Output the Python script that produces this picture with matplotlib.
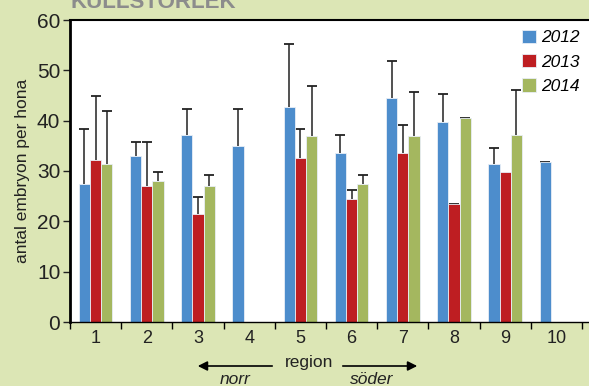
import numpy as np
import matplotlib.pyplot as plt

# regions and yearly means (antal embryon per hona) with upper error
regions = ['1', '2', '3', '4', '5', '6', '7', '8', '9', '10']
years = ['2012', '2013', '2014']

mean_2012 = [27.4, 32.9, 37.2, 35.0, 42.7, 33.5, 44.5, 39.7, 31.3, 31.7]
mean_2013 = [32.2, 27.0, 21.5, np.nan, 32.5, 24.4, 33.5, 23.4, 29.9, np.nan]
mean_2014 = [31.4, 28.1, 27.0, np.nan, 36.9, 27.4, 36.9, 40.5, 37.2, np.nan]

err_2012 = [10.9, 2.9, 5.2, 7.4, 12.6, 3.7, 7.4, 5.6, 3.3, 0.1]
err_2013 = [12.8, 8.8, 3.4, np.nan, 5.8, 1.9, 5.6, 0.1, np.nan, np.nan]
err_2014 = [10.6, 1.8, 2.2, np.nan, 9.9, 1.8, 8.8, 0.1, 8.8, np.nan]

colors = ['#4d8dcc', '#be1e22', '#a4b75f']
bg = '#dce6b5'

plt.rcParams['font.family'] = ['Liberation Sans', 'DejaVu Sans']

fig = plt.figure(figsize=(5.89, 3.86), dpi=100, facecolor=bg)
W, H = 589, 386
ax = fig.add_axes([70 / W, (H - 322) / H, (W - 70) / W, (322 - 20) / H])
ax.set_facecolor('white')

x = np.arange(1, len(regions) + 1)
bw = 0.22
means = [mean_2012, mean_2013, mean_2014]
errs = [err_2012, err_2013, err_2014]
for i, (m, e) in enumerate(zip(means, errs)):
    m = np.array(m, dtype=float)
    e = np.array(e, dtype=float)
    pos = x + (i - 1) * bw
    ok = ~np.isnan(m)
    ax.bar(pos[ok], m[ok], width=bw, color=colors[i], edgecolor='#e8eef6',
           linewidth=0.6, label=years[i], zorder=2)
    ok2 = ok & ~np.isnan(e)
    eb = ax.errorbar(pos[ok2], m[ok2], yerr=[np.zeros(ok2.sum()), e[ok2]],
                     fmt='none', ecolor='#222222', elinewidth=1.1, capsize=3.5,
                     capthick=1.3, zorder=1)
    # only the upper cap is drawn in the original
    eb[1][0].set_visible(False)

ax.set_xlim(0.5, 0.5 + (W - 70) / 51.2)
ax.set_ylim(0, 60)
ax.set_yticks(range(0, 61, 10))
ax.set_xticks(x)
ax.set_xticklabels(regions)
ax.set_xticks(np.arange(0.5, 11, 1.0), minor=True)
ax.tick_params(axis='x', which='major', length=0, labelsize=13, pad=6, colors='#222222')
ax.tick_params(axis='x', which='minor', length=5, width=1, direction='out')
ax.tick_params(axis='y', length=5, width=1, direction='out', labelsize=15, pad=2,
               colors='#222222')
ax.spines['right'].set_visible(False)
ax.spines['left'].set_linewidth(2)
ax.spines['top'].set_linewidth(1.5)
ax.spines['bottom'].set_linewidth(1)
ax.set_ylabel('antal embryon per hona', fontsize=12.5, color='#222222', labelpad=5)

leg = ax.legend(loc='upper right', frameon=False, prop={'style': 'italic', 'size': 12.5},
                handlelength=0.8, handleheight=0.8, handletextpad=0.3,
                labelspacing=0.5, borderaxespad=0.15)

fig.text(70 / W, 1 - 8 / H, 'KULLSTORLEK', fontsize=16, fontweight='heavy',
         color='#8c8c8c', va='baseline', ha='left')

# region arrows below the x axis
fig.text(309 / W, 1 - 362 / H, 'region', fontsize=12.5, ha='center', va='center',
         color='#222222')
arrow = dict(arrowstyle='-|>', color='black', lw=1.2, mutation_scale=14)
fig.add_artist(plt.Annotation('', xy=(195 / W, 1 - 366 / H), xytext=(275 / W, 1 - 366 / H),
                              xycoords='figure fraction', arrowprops=arrow))
fig.add_artist(plt.Annotation('', xy=(420 / W, 1 - 366 / H), xytext=(340 / W, 1 - 366 / H),
                              xycoords='figure fraction', arrowprops=arrow))
fig.text(235 / W, 1 - 379 / H, 'norr', fontsize=12.5, style='italic', ha='center',
         va='center', color='#222222')
fig.text(372 / W, 1 - 379 / H, 'söder', fontsize=12.5, style='italic', ha='center',
         va='center', color='#222222')

fig.savefig('out.png', dpi=100, facecolor=bg)
